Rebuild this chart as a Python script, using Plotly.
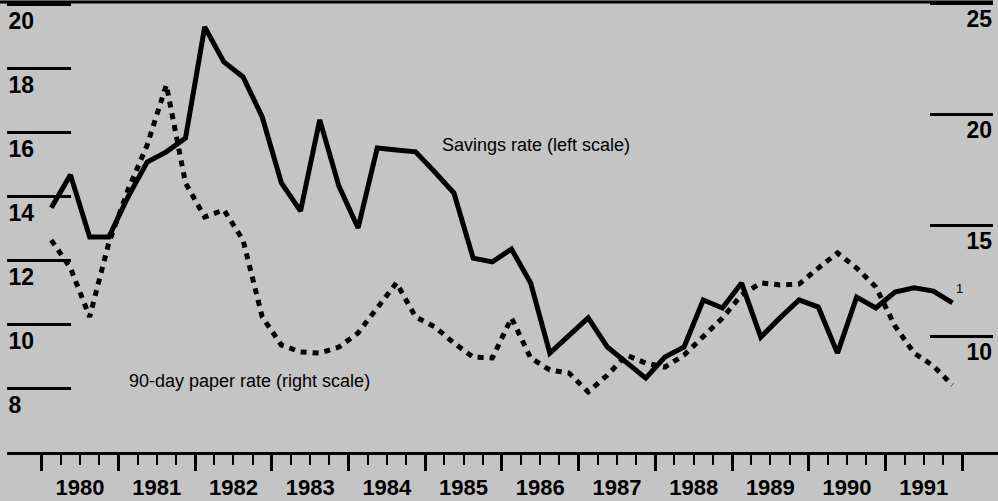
import plotly.graph_objects as go

# ---- data (quarterly, 1980Q1 .. 1991Q4) ----
years = list(range(1980, 1992))
quarters = [y + 0.125 + 0.25 * q for y in years for q in range(4)]

savings_rate = [13.63, 14.66, 12.72, 12.72, 13.97, 15.06, 15.38, 15.81,
                19.28, 18.19, 17.72, 16.47, 14.41, 13.53, 16.38, 14.31,
                13.00, 15.50, 15.44, 15.38, 14.75, 14.09, 12.06, 11.94,
                12.34, 11.28, 9.09, 9.66, 10.19, 9.28, 8.81, 8.31,
                8.97, 9.28, 10.75, 10.50, 11.28, 9.59, 10.19, 10.75,
                10.53, 9.09, 10.84, 10.50, 11.00, 11.13, 11.03, 10.66]

paper_rate = [14.32, 13.06, 10.86, 14.19, 16.58, 18.60, 21.31, 16.89,
              15.36, 15.68, 14.32, 10.86, 9.59, 9.28, 9.23, 9.50,
              10.14, 11.31, 12.39, 10.86, 10.41, 9.68, 9.05, 9.01,
              10.81, 9.01, 8.47, 8.33, 7.48, 8.24, 9.14, 8.78,
              8.60, 9.14, 9.95, 10.81, 11.85, 12.39, 12.30, 12.34,
              13.06, 13.74, 13.06, 12.21, 10.45, 9.23, 8.65, 7.79]

left_ticks = [8, 10, 12, 14, 16, 18, 20]
right_ticks = [10, 15, 20, 25]
year_labels = [str(y) for y in years]
year_bounds = list(range(1980, 1993))
quarter_ticks = [y + 0.25 * q for y in years for q in (1, 2, 3)]

BG = "#c4c4c4"
FONT = "Liberation Sans, Arial, Helvetica, sans-serif"
XR = [1979.5476, 1992.468]
XDOM = [7 / 998, 1]

fig = go.Figure()

fig.add_trace(go.Scatter(
    x=quarters, y=savings_rate, mode="lines", xaxis="x", yaxis="y",
    line=dict(color="black", width=5), showlegend=False, hoverinfo="skip"))

fig.add_trace(go.Scatter(
    x=quarters, y=paper_rate, mode="lines", xaxis="x", yaxis="y2",
    line=dict(color="black", width=5, dash="6px,6px"), showlegend=False,
    hoverinfo="skip"))

# invisible trace to carry the year-label axis
fig.add_trace(go.Scatter(
    x=[y + 0.5 for y in years], y=[None] * len(years), mode="lines",
    xaxis="x2", yaxis="y", showlegend=False, hoverinfo="skip"))

fig.update_layout(
    width=998, height=501,
    margin=dict(l=0, r=0, t=0, b=49),
    paper_bgcolor=BG, plot_bgcolor=BG,
    font=dict(family=FONT, color="black"),
    xaxis=dict(
        domain=XDOM, range=XR, showgrid=False, zeroline=False,
        showline=True, linecolor="black", linewidth=3,
        tickmode="array", tickvals=year_bounds, showticklabels=False,
        ticks="outside", ticklen=16, tickwidth=2.5, tickcolor="black",
        minor=dict(tickmode="array", tickvals=quarter_ticks, ticks="outside",
                   ticklen=10, tickwidth=2, tickcolor="black", showgrid=False),
    ),
    xaxis2=dict(
        domain=XDOM, range=XR, overlaying="x", anchor="y", side="bottom",
        showgrid=False, zeroline=False, showline=False,
        tickmode="array", tickvals=[y + 0.5 for y in years], ticktext=year_labels,
        ticks="", ticklabelstandoff=20,
        tickfont=dict(family=FONT, size=22, weight="bold", color="black"),
    ),
    yaxis=dict(
        range=[6, 20.125], showgrid=False, zeroline=False, showline=False,
        tickmode="array", tickvals=left_ticks,
        ticks="inside", ticklen=64, tickwidth=2.5, tickcolor="black",
        ticklabelposition="inside", ticklabelshift=17, ticklabelstandoff=-61,
        tickfont=dict(family=FONT, size=23, weight="bold", color="black"),
    ),
    yaxis2=dict(
        range=[4.775, 25.135], overlaying="y", side="right", anchor="free",
        position=992.5 / 998, showgrid=False, zeroline=False, showline=False,
        tickmode="array", tickvals=right_ticks,
        ticks="inside", ticklen=63, tickwidth=2.5, tickcolor="black",
        ticklabelposition="inside", ticklabelshift=16, ticklabelstandoff=-61,
        tickfont=dict(family=FONT, size=23, weight="bold", color="black"),
    ),
    shapes=[dict(type="line", xref="paper", yref="paper",
                 x0=0, x1=993 / 998, y0=1 - 2 / 452, y1=1 - 2 / 452,
                 line=dict(color="black", width=3))],
    annotations=[
        dict(text="Savings rate (left scale)", x=1985.193, y=15.59, xref="x", yref="y",
             xanchor="left", yanchor="middle", showarrow=False,
             font=dict(family=FONT, size=18, color="black")),
        dict(text="90-day paper rate (right scale)", x=1981.112, y=8.22, xref="x", yref="y",
             xanchor="left", yanchor="middle", showarrow=False,
             font=dict(family=FONT, size=18, color="black")),
        dict(text="1", x=1991.96, y=11.125, xref="x", yref="y",
             xanchor="center", yanchor="middle", showarrow=False,
             font=dict(family=FONT, size=13, color="black")),
    ],
)

fig.write_html("out.html", config={"displayModeBar": False},
               post_script="document.body.style.margin='0';document.body.style.overflow='hidden';")
